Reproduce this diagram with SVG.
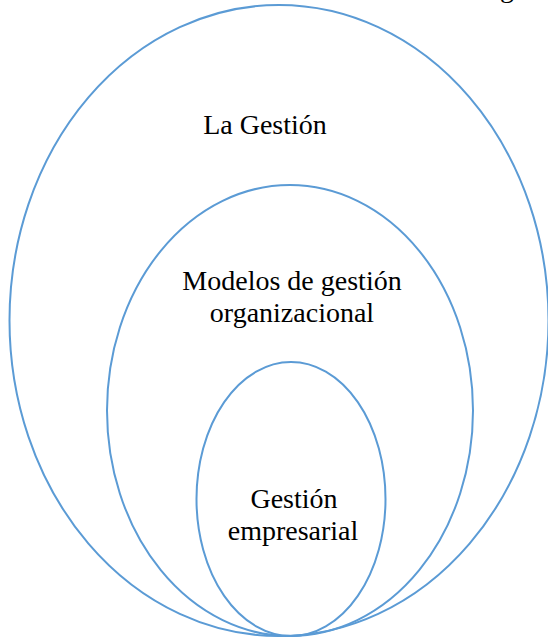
<svg xmlns="http://www.w3.org/2000/svg" width="548" height="638" viewBox="0 0 548 638">
<style>
.e{fill:none;stroke:#5B9BD5;stroke-width:2}
text{font-family:'Liberation Serif','Times New Roman',serif;font-size:28px;fill:#000;text-anchor:middle}
</style>
<rect width="548" height="638" fill="#fff"/>
<text x="507" y="-3" font-family="Liberation Serif, serif">g</text>
<g id="outer">
<ellipse class="e" cx="279" cy="320.5" rx="269.5" ry="315.5"/>
<text x="265" y="134" font-family="Liberation Serif, serif">La Gestión</text>
</g>
<g id="middle">
<ellipse class="e" cx="290" cy="410.5" rx="183" ry="225.5"/>
<text x="292" y="290" font-family="Liberation Serif, serif">Modelos de gestión</text>
<text x="292" y="322" font-family="Liberation Serif, serif">organizacional</text>
</g>
<g id="inner">
<ellipse class="e" cx="291" cy="499" rx="94.5" ry="137"/>
<text x="294" y="508" font-family="Liberation Serif, serif">Gestión</text>
<text x="293" y="540" font-family="Liberation Serif, serif">empresarial</text>
</g>
<g id="connectors"></g>
</svg>
